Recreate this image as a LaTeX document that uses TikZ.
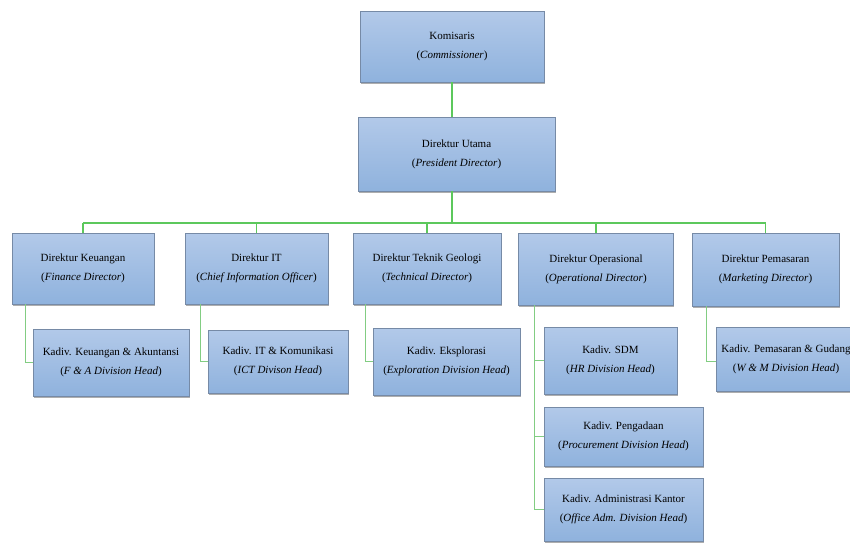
\documentclass[tikz,border=0pt]{standalone}
\usepackage{fontspec}
\setmainfont{Liberation Serif}
\usetikzlibrary{shadows}
\definecolor{boxtop}{RGB}{178,201,233}
\definecolor{boxbot}{RGB}{143,178,221}
\definecolor{boxline}{RGB}{118,138,166}
\definecolor{link}{RGB}{92,200,92}
\definecolor{sublink}{RGB}{130,205,130}
\tikzset{
  orgbox/.style={rectangle, draw=boxline, line width=0.8pt,
    top color=boxtop, bottom color=boxbot,
    drop shadow={shadow xshift=0.6pt, shadow yshift=-1.6pt, opacity=0.45, fill=black!70},
    align=center, inner sep=2pt,
    font=\fontsize{11}{19}\selectfont},
  link/.style={draw=link, line width=1.1pt},
  sublinkline/.style={draw=sublink, line width=0.9pt}
}
\newcommand{\en}[1]{(\textit{#1})}
\begin{document}
\begin{tikzpicture}[x=1pt,y=-1pt]
\useasboundingbox (0,0) rectangle (850,542);
\fill[white] (0,0) rectangle (850,542);

% top of the chart
\node[orgbox, minimum width=184pt, minimum height=71pt] (kom) at (452,46.5) {Komisaris\\\en{Commissioner}};
\node[orgbox, minimum width=197pt, minimum height=74pt] (dir) at (456.5,154) {Direktur Utama\\\en{President Director}};

% directors
\node[orgbox, minimum width=142pt, minimum height=71pt] (fin) at (83,268.5) {Direktur Keuangan\\\en{Finance Director}};
\node[orgbox, minimum width=143pt, minimum height=71pt] (it) at (256.5,268.5) {Direktur IT\\\en{Chief Information Officer}};
\node[orgbox, minimum width=148pt, minimum height=71pt] (tek) at (427,268.5) {Direktur Teknik Geologi\\\en{Technical Director}};
\node[orgbox, minimum width=155pt, minimum height=72pt] (ops) at (596,269) {Direktur Operasional\\\en{Operational Director}};
\node[orgbox, minimum width=147pt, minimum height=73pt] (pem) at (765.5,269.5) {Direktur Pemasaran\\\en{Marketing Director}};

% division heads
\node[orgbox, minimum width=156pt, minimum height=67pt] (finsub) at (111,362.5) {Kadiv. Keuangan \& Akuntansi\\\en{F \& A Division Head}};
\node[orgbox, minimum width=140pt, minimum height=63pt] (itsub) at (278,361.5) {Kadiv. IT \& Komunikasi\\\en{ICT Divison Head}};
\node[orgbox, minimum width=147pt, minimum height=67pt] (teksub) at (446.5,361.5) {Kadiv. Eksplorasi\\\en{Exploration Division Head}};
\node[orgbox, minimum width=133pt, minimum height=67pt] (sdm) at (610.5,360.5) {Kadiv. SDM\\\en{HR Division Head}};
\node[orgbox, minimum width=159pt, minimum height=59pt] (peng) at (623.5,436.5) {Kadiv. Pengadaan\\\en{Procurement Division Head}};
\node[orgbox, minimum width=159pt, minimum height=63pt] (adm) at (623.5,509.5) {Kadiv. Administrasi Kantor\\\en{Office Adm. Division Head}};
\node[orgbox, minimum width=140pt, minimum height=64pt, inner sep=0pt] (pemsub) at (786,359) {Kadiv. Pemasaran \& Gudang\\\en{W \& M Division Head}};

% connectors
\coordinate (hub) at (452,223);
\draw[link] (kom.south) -- (kom.south |- dir.north);
\draw[link] (kom.south |- dir.south) -- (hub);
\draw[link] (fin.north |- hub) -- (pem.north |- hub);
\foreach \d in {fin,it,tek,ops,pem}
  \draw[link] (\d.north) -- (\d.north |- hub);

\draw[sublinkline] ([xshift=14pt]fin.south west) |- (finsub.west);
\draw[sublinkline] ([xshift=16pt]it.south west) |- (itsub.west);
\draw[sublinkline] ([xshift=13pt]tek.south west) |- (teksub.west);
\draw[sublinkline] ([xshift=15pt]pem.south west) |- ([yshift=-2pt]pemsub.west);
\coordinate (opsx) at ([xshift=16pt]ops.south west);
\draw[sublinkline] (opsx) |- (adm.west);
\draw[sublinkline] (opsx |- sdm.west) -- (sdm.west);
\draw[sublinkline] (opsx |- peng.west) -- (peng.west);
\end{tikzpicture}
\end{document}
